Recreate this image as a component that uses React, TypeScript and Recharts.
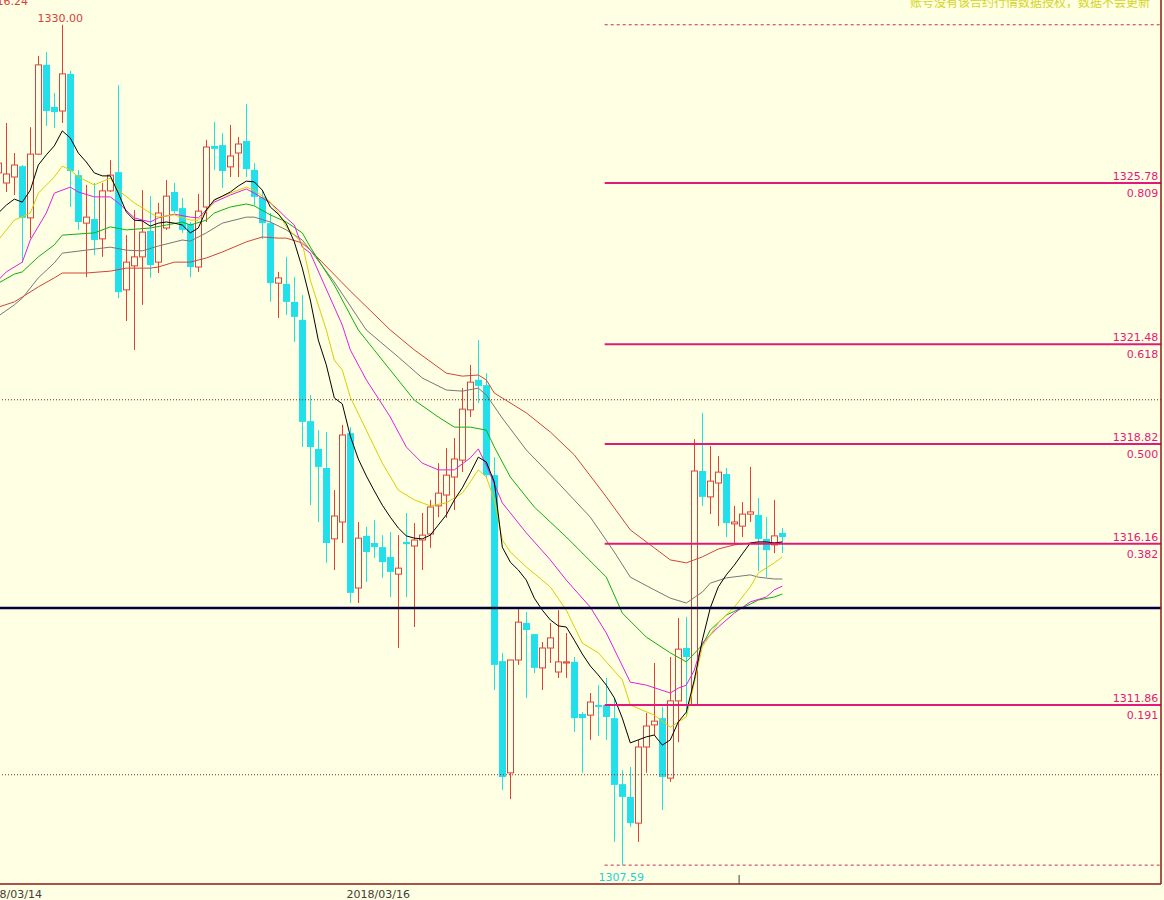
import React from 'react';
import { ComposedChart, Bar, Line, XAxis, YAxis, ReferenceLine, ReferenceDot } from 'recharts';

// candle data (index 0 = leftmost, partly cut bar)
const opens = [
  1326.05, 1325.78, 1325.94, 1326.23, 1324.85, 1326.55, 1328.93, 1327.81, 1327.70, 1328.69,
  1325.99, 1324.71, 1324.82, 1324.29, 1325.57, 1326.07, 1322.93, 1323.57, 1323.81, 1324.50,
  1323.67, 1324.58, 1325.54, 1325.11, 1324.69, 1323.54, 1325.14, 1326.77, 1326.79, 1326.21,
  1326.58, 1326.90, 1326.13, 1325.41, 1324.71, 1323.11, 1323.09, 1322.61, 1322.13, 1319.43,
  1318.69, 1318.18, 1316.29, 1316.74, 1319.11, 1314.98, 1316.37, 1316.18, 1316.07, 1315.81,
  1315.35, 1316.21, 1316.10, 1316.26, 1316.42, 1317.17, 1317.46, 1317.94, 1318.39, 1319.73,
  1320.53, 1320.39, 1317.99, 1313.03, 1310.05, 1313.06, 1314.05, 1313.75, 1312.85, 1313.38,
  1312.74, 1312.98, 1313.01, 1311.62, 1311.59, 1311.86, 1311.86, 1311.51, 1309.75, 1309.41,
  1308.71, 1310.74, 1311.33, 1311.51, 1309.91, 1311.97, 1313.38, 1311.86, 1318.10, 1317.41,
  1317.78, 1318.02, 1316.69, 1316.63, 1316.95, 1316.93, 1316.29, 1316.13, 1316.45,
];
const highs = [
  1326.53, 1327.38, 1326.58, 1326.26, 1327.27, 1329.17, 1329.27, 1328.18, 1330.00, 1328.77,
  1326.13, 1325.73, 1325.78, 1325.78, 1326.39, 1328.39, 1324.39, 1325.06, 1325.59, 1325.43,
  1325.25, 1325.86, 1325.78, 1325.38, 1324.74, 1325.49, 1326.93, 1327.41, 1327.11, 1327.33,
  1327.01, 1327.89, 1326.31, 1325.59, 1324.98, 1323.41, 1323.81, 1323.27, 1322.79, 1320.13,
  1319.19, 1319.14, 1317.59, 1319.33, 1319.27, 1316.74, 1316.61, 1316.79, 1316.39, 1316.47,
  1316.39, 1316.98, 1316.71, 1316.98, 1317.33, 1318.31, 1318.71, 1318.98, 1320.31, 1320.93,
  1321.59, 1320.71, 1318.47, 1313.25, 1313.06, 1314.47, 1314.34, 1313.75, 1313.54, 1314.05,
  1314.39, 1313.78, 1313.14, 1311.67, 1312.18, 1312.39, 1312.58, 1312.05, 1310.13, 1310.21,
  1310.93, 1311.65, 1312.98, 1311.81, 1313.14, 1314.18, 1314.21, 1318.95, 1319.65, 1318.77,
  1318.50, 1318.18, 1317.17, 1317.27, 1318.21, 1317.38, 1316.87, 1317.33, 1316.58,
];
const lows = [
  1325.86, 1325.54, 1325.46, 1323.65, 1324.31, 1326.53, 1327.30, 1327.25, 1327.38, 1325.14,
  1324.53, 1323.27, 1323.86, 1323.81, 1325.54, 1322.71, 1322.10, 1321.33, 1322.53, 1323.25,
  1323.38, 1324.53, 1324.98, 1324.45, 1323.27, 1323.41, 1324.74, 1326.13, 1325.65, 1325.94,
  1325.94, 1325.94, 1325.19, 1324.29, 1322.61, 1322.18, 1322.26, 1321.54, 1318.74, 1317.19,
  1316.74, 1315.65, 1315.46, 1316.18, 1314.58, 1314.58, 1315.14, 1315.78, 1315.25, 1314.74,
  1313.38, 1314.74, 1313.94, 1315.46, 1316.05, 1316.87, 1316.85, 1317.06, 1318.07, 1319.54,
  1319.91, 1317.91, 1312.26, 1309.59, 1309.35, 1312.93, 1312.05, 1312.71, 1312.26, 1312.98,
  1312.58, 1312.58, 1311.14, 1310.05, 1310.93, 1311.03, 1310.93, 1308.21, 1307.59, 1308.61,
  1308.21, 1310.05, 1311.06, 1309.06, 1309.81, 1310.87, 1311.54, 1311.83, 1317.17, 1316.95,
  1316.63, 1316.34, 1316.13, 1316.34, 1316.74, 1315.43, 1315.27, 1315.91, 1315.91,
];
const closes = [
  1326.31, 1326.02, 1326.26, 1324.85, 1326.55, 1328.93, 1327.70, 1327.67, 1328.69, 1326.10,
  1324.74, 1324.87, 1324.26, 1325.57, 1325.99, 1322.87, 1323.67, 1323.81, 1324.47, 1323.59,
  1324.98, 1325.43, 1325.03, 1324.53, 1323.54, 1325.03, 1326.74, 1326.69, 1326.10, 1326.50,
  1326.82, 1326.15, 1325.41, 1324.71, 1323.11, 1323.25, 1322.61, 1322.21, 1319.41, 1318.74,
  1318.21, 1316.18, 1316.90, 1319.06, 1314.85, 1316.31, 1315.94, 1316.07, 1315.67, 1315.41,
  1315.51, 1316.15, 1316.26, 1316.39, 1317.14, 1317.51, 1317.99, 1318.42, 1319.75, 1320.47,
  1320.37, 1317.99, 1312.93, 1309.94, 1313.06, 1314.07, 1313.86, 1312.85, 1313.38, 1313.65,
  1313.01, 1313.01, 1311.51, 1311.51, 1311.94, 1311.81, 1311.54, 1309.73, 1309.41, 1308.71,
  1310.74, 1311.30, 1311.43, 1309.94, 1311.97, 1313.35, 1313.14, 1318.10, 1317.41, 1317.83,
  1318.07, 1316.71, 1316.74, 1316.95, 1317.01, 1316.29, 1315.99, 1316.37, 1316.34,
];

// moving averages: black one at every bar, others as [bar, value]
const maBlack = [
  1324.98, 1325.19, 1325.35, 1325.27, 1325.59, 1326.26, 1326.53, 1326.77, 1327.17, 1326.98,
  1326.58, 1326.34, 1326.05, 1325.97, 1325.97, 1325.51, 1325.01, 1324.79, 1324.77, 1324.63,
  1324.71, 1324.74, 1324.71, 1324.66, 1324.45, 1324.58, 1325.06, 1325.33, 1325.43, 1325.54,
  1325.70, 1325.83, 1325.81, 1325.59, 1325.14, 1324.95, 1324.69, 1324.21, 1323.51, 1322.66,
  1321.59, 1320.93, 1320.05, 1319.89, 1319.03, 1318.42, 1317.97, 1317.57, 1317.19, 1316.87,
  1316.58, 1316.37, 1316.31, 1316.29, 1316.39, 1316.66, 1316.93, 1317.33, 1317.65, 1318.05,
  1318.47, 1318.34, 1317.81, 1316.07, 1315.67, 1315.46, 1315.19, 1314.71, 1314.39, 1314.13,
  1313.97, 1313.94, 1313.59, 1313.22, 1312.90, 1312.66, 1312.39, 1312.05, 1311.51, 1310.85,
  1310.93, 1311.01, 1311.06, 1310.79, 1310.93, 1311.41, 1311.67, 1312.53, 1313.59, 1314.45,
  1315.01, 1315.33, 1315.59, 1315.89, 1316.18, 1316.21, 1316.21, 1316.18, 1316.21,
];
const maYellow: [number, number][] = [
  [0, 1324.26], [2, 1324.79], [4, 1324.98], [5, 1325.51], [7, 1325.94], [8, 1326.23], [9, 1326.13],
  [10, 1325.94], [12, 1325.73], [14, 1325.91], [15, 1325.59], [17, 1325.25], [19, 1324.98], [20, 1324.87],
  [22, 1324.93], [24, 1324.79], [25, 1324.79], [26, 1325.01], [27, 1325.33], [29, 1325.51], [31, 1325.67],
  [32, 1325.59], [34, 1325.27], [35, 1324.98], [36, 1324.61], [38, 1324.18], [39, 1323.19], [41, 1321.86],
  [42, 1321.06], [43, 1320.79], [44, 1320.07], [46, 1319.19], [48, 1318.31], [50, 1317.59], [52, 1317.33],
  [54, 1317.17], [56, 1317.25], [58, 1317.51], [59, 1317.81], [60, 1318.13], [61, 1317.94], [62, 1317.33],
  [63, 1316.26], [64, 1315.94], [66, 1315.54], [69, 1315.01], [71, 1314.39], [73, 1313.51], [75, 1313.25],
  [78, 1312.53], [79, 1311.86], [82, 1311.59], [84, 1311.27], [86, 1311.54], [87, 1312.45], [88, 1313.41],
  [90, 1314.05], [92, 1314.47], [94, 1315.01], [95, 1315.38], [97, 1315.65], [98, 1315.81],
];
const maMagenta: [number, number][] = [
  [0, 1323.19], [1, 1323.41], [3, 1323.67], [4, 1324.26], [6, 1324.98], [7, 1325.51], [9, 1325.67],
  [10, 1325.54], [12, 1325.41], [14, 1325.41], [15, 1325.25], [17, 1324.85], [19, 1324.74], [20, 1324.85],
  [22, 1324.95], [24, 1324.87], [25, 1324.85], [27, 1325.27], [29, 1325.46], [31, 1325.62], [32, 1325.51],
  [34, 1325.25], [35, 1325.06], [36, 1324.85], [37, 1324.66], [38, 1324.07], [39, 1323.91], [43, 1321.99],
  [44, 1321.33], [46, 1320.53], [49, 1319.54], [51, 1318.74], [53, 1318.31], [55, 1318.13], [57, 1318.13],
  [59, 1318.45], [60, 1318.69], [61, 1318.26], [63, 1317.25], [66, 1316.45], [69, 1315.73], [71, 1315.19],
  [74, 1314.47], [76, 1313.78], [79, 1312.47], [81, 1312.39], [84, 1312.18], [85, 1312.31], [86, 1312.39],
  [87, 1312.79], [88, 1313.51], [90, 1313.94], [92, 1314.31], [94, 1314.61], [96, 1314.74], [97, 1314.93],
  [98, 1315.03],
];
const maGreen: [number, number][] = [
  [0, 1323.11], [2, 1323.35], [3, 1323.41], [5, 1323.81], [7, 1324.13], [8, 1324.39], [12, 1324.45],
  [14, 1324.61], [16, 1324.53], [19, 1324.58], [21, 1324.66], [23, 1324.74], [24, 1324.66], [26, 1324.79],
  [27, 1324.98], [29, 1325.14], [31, 1325.22], [32, 1325.17], [34, 1324.93], [36, 1324.74], [38, 1324.45],
  [39, 1324.07], [42, 1323.06], [45, 1321.86], [49, 1320.79], [52, 1319.99], [55, 1319.54], [57, 1319.27],
  [59, 1319.27], [61, 1319.19], [62, 1318.74], [64, 1317.94], [67, 1317.14], [71, 1316.34], [76, 1315.27],
  [78, 1314.31], [81, 1313.67], [84, 1313.25], [86, 1313.01], [88, 1313.46], [89, 1313.86], [91, 1314.26],
  [94, 1314.55], [95, 1314.66], [97, 1314.74], [98, 1314.82],
];
const maGray: [number, number][] = [
  [0, 1322.23], [2, 1322.53], [3, 1322.71], [5, 1323.25], [7, 1323.65], [8, 1323.91], [11, 1323.99],
  [14, 1324.07], [16, 1323.99], [18, 1323.97], [20, 1324.10], [23, 1324.26], [24, 1324.23], [26, 1324.45],
  [28, 1324.71], [31, 1324.87], [32, 1324.87], [34, 1324.74], [36, 1324.53], [38, 1324.26], [39, 1323.99],
  [42, 1323.14], [46, 1321.86], [50, 1321.14], [53, 1320.58], [56, 1320.26], [58, 1320.23], [60, 1320.31],
  [61, 1320.13], [63, 1319.51], [66, 1318.66], [70, 1317.78], [74, 1316.87], [77, 1315.94], [79, 1315.27],
  [82, 1314.93], [84, 1314.71], [86, 1314.58], [88, 1314.87], [89, 1315.11], [91, 1315.25], [94, 1315.33],
  [95, 1315.27], [97, 1315.22], [98, 1315.22],
];
const maRed: [number, number][] = [
  [0, 1322.47], [2, 1322.61], [3, 1322.74], [5, 1323.01], [7, 1323.25], [8, 1323.38], [11, 1323.38],
  [14, 1323.43], [16, 1323.51], [19, 1323.51], [20, 1323.54], [22, 1323.67], [24, 1323.67], [26, 1323.78],
  [28, 1323.94], [31, 1324.21], [33, 1324.34], [35, 1324.31], [36, 1324.31], [38, 1324.18], [39, 1323.99],
  [44, 1322.90], [49, 1321.86], [52, 1321.33], [56, 1320.71], [58, 1320.63], [60, 1320.66], [61, 1320.53],
  [62, 1320.18], [66, 1319.65], [69, 1319.14], [72, 1318.53], [76, 1317.41], [79, 1316.53], [82, 1316.05],
  [84, 1315.73], [86, 1315.65], [88, 1315.81], [90, 1316.02], [92, 1316.13], [94, 1316.18], [95, 1316.18],
  [97, 1316.18], [98, 1316.18],
];

// fibonacci levels drawn from the 1330.00 high to the 1307.59 low
const fibPrices = [1325.78, 1321.48, 1318.82, 1316.16, 1311.86];
const fibRatios = ['0.809', '0.618', '0.500', '0.382', '0.191'];
const fibEnds = [1330.0, 1307.59];
const fibStartIdx = 75.8;
const dottedLevels = [1320.0, 1310.0];
const navyLevel = 1314.45;
const highIdx = 8;
const lowIdx = 78;
const hiLabel = '1330.00';
const loLabel = '1307.59';

const dateTicks = [1, 47];
const dateLabels = ['2018/03/14', '2018/03/16'];
const markTick = 92.6;

const X_DOMAIN: [number, number] = [0.2125, 145.3375];
const Y_DOMAIN: [number, number] = [1307.087, 1330.66];

const BG = '#FFFFE3';
const UP = '#E0403A';
const DOWN = '#22E0EA';
const FIB = '#E4187A';
const AXIS = '#8B1A1A';
const FONT = '"DejaVu Sans", Verdana, sans-serif';

const lookup = (pts: [number, number][]) => {
  const m = new Map(pts);
  return (i: number) => (m.has(i) ? (m.get(i) as number) : null);
};
const yel = lookup(maYellow);
const mag = lookup(maMagenta);
const grn = lookup(maGreen);
const gry = lookup(maGray);
const red = lookup(maRed);

const rows = opens.map((o, i) => ({
  idx: i,
  open: o,
  high: highs[i],
  low: lows[i],
  close: closes[i],
  range: [lows[i], highs[i]],
  m1: maBlack[i],
  m2: yel(i),
  m3: mag(i),
  m4: grn(i),
  m5: gry(i),
  m6: red(i),
}));

const Candle = (props: any) => {
  const { x, y, width, height, payload } = props;
  if (payload == null || height == null || isNaN(y)) return null;
  const { open, close, high, low } = payload;
  const cx = Math.round(x + width / 2);
  const k = height / (high - low);
  const yOf = (v: number) => y + (high - v) * k;
  const top = yOf(Math.max(open, close));
  const bot = yOf(Math.min(open, close));
  const wx = cx + 0.5;
  if (close >= open) {
    return (
      <g>
        <line x1={wx} x2={wx} y1={y} y2={top} stroke={UP} />
        <line x1={wx} x2={wx} y1={bot} y2={y + height} stroke={UP} />
        <rect x={cx - 2.5} y={top} width={6} height={Math.max(bot - top, 1)} fill="none" stroke={UP} />
      </g>
    );
  }
  return (
    <g>
      <line x1={wx} x2={wx} y1={y} y2={y + height} stroke={DOWN} />
      <rect x={cx - 3} y={top} width={7} height={Math.max(bot - top, 1)} fill={DOWN} />
    </g>
  );
};

const DateTick = (props: any) => {
  const { x, y, payload } = props;
  const k = dateTicks.indexOf(payload.value);
  if (k < 0) {
    return <line x1={x} x2={x} y1={y - 9} y2={y} stroke="#404040" />;
  }
  return (
    <text x={x + 4} y={y + 14} textAnchor="middle" fontSize={11} fontFamily={FONT} fill="#404040">
      {dateLabels[k]}
    </text>
  );
};

const fibLabel = (price: number, ratio: string) => (p: any) => (
  <g>
    <text x={p.cx} y={p.cy - 3} textAnchor="end" fontSize={11} fontFamily={FONT} fill={FIB}>
      {price.toFixed(2)}
    </text>
    <text x={p.cx} y={p.cy + 14} textAnchor="end" fontSize={11} fontFamily={FONT} fill={FIB}>
      {ratio}
    </text>
  </g>
);

export default function App() {
  return (
    <div style={{ position: 'absolute', left: 0, top: 0, width: 1164, height: 900, background: BG, overflow: 'hidden' }}>
      <ComposedChart width={1164} height={900} data={rows} margin={{ top: 0, right: 0, bottom: 0, left: 0 }}>
        <XAxis
          type="number"
          dataKey="idx"
          domain={X_DOMAIN}
          allowDataOverflow
          ticks={[...dateTicks, markTick]}
          interval={0}
          tick={<DateTick />}
          tickLine={false}
          tickSize={0}
          tickMargin={0}
          height={16}
          axisLine={{ stroke: AXIS, strokeWidth: 1.5 }}
        />
        <YAxis
          orientation="right"
          domain={Y_DOMAIN}
          allowDataOverflow
          width={3}
          tick={false}
          tickLine={false}
          axisLine={{ stroke: AXIS, strokeWidth: 1.5 }}
        />

        {dottedLevels.map((v) => (
          <ReferenceLine key={v} y={v} stroke="#7A2A10" strokeDasharray="1 2" />
        ))}

        <Bar dataKey="range" barSize={7} shape={<Candle />} isAnimationActive={false} />

        <Line dataKey="m6" stroke="#D04438" dot={false} strokeWidth={1} connectNulls isAnimationActive={false} />
        <Line dataKey="m5" stroke="#777777" dot={false} strokeWidth={1} connectNulls isAnimationActive={false} />
        <Line dataKey="m4" stroke="#10B010" dot={false} strokeWidth={1} connectNulls isAnimationActive={false} />
        <Line dataKey="m3" stroke="#E020E0" dot={false} strokeWidth={1} connectNulls isAnimationActive={false} />
        <Line dataKey="m2" stroke="#D8D000" dot={false} strokeWidth={1} connectNulls isAnimationActive={false} />
        <Line dataKey="m1" stroke="#000000" dot={false} strokeWidth={1} connectNulls isAnimationActive={false} />

        <ReferenceLine y={navyLevel} stroke="#000038" strokeWidth={2.5} />

        {fibEnds.map((v) => (
          <ReferenceLine
            key={'e' + v}
            segment={[{ x: fibStartIdx, y: v }, { x: X_DOMAIN[1], y: v }]}
            stroke="#C8285A"
            strokeDasharray="3 3"
            ifOverflow="visible"
          />
        ))}
        {fibPrices.map((v) => (
          <ReferenceLine
            key={'f' + v}
            segment={[{ x: fibStartIdx, y: v }, { x: X_DOMAIN[1], y: v }]}
            stroke={FIB}
            strokeWidth={2}
            ifOverflow="visible"
          />
        ))}
        {fibPrices.map((v, i) => (
          <ReferenceDot key={'l' + v} x={145} y={v} r={0} shape={fibLabel(v, fibRatios[i])} ifOverflow="visible" />
        ))}

        <ReferenceDot
          x={highIdx}
          y={highs[highIdx]}
          r={0}
          shape={(p: any) => (
            <text x={p.cx - 2} y={p.cy - 3} textAnchor="middle" fontSize={11} fontFamily={FONT} fill="#D8403A">
              {hiLabel}
            </text>
          )}
        />
        <ReferenceDot
          x={lowIdx}
          y={lows[lowIdx]}
          r={0}
          shape={(p: any) => (
            <text x={p.cx - 1} y={p.cy + 16} textAnchor="middle" fontSize={11} fontFamily={FONT} fill="#20D0D8">
              {loLabel}
            </text>
          )}
        />
      </ComposedChart>
      <svg width={1164} height={900} style={{ position: 'absolute', left: 0, top: 0, pointerEvents: 'none' }}>
        <text x={28} y={5} textAnchor="end" fontSize={11} fontFamily={FONT} fill="#D8403A">
          1316.24
        </text>
        <text x={1150} y={7} textAnchor="end" fontSize={12} fontFamily='"Noto Sans CJK SC", sans-serif' fill="#D4D41C">
          账号没有该合约行情数据授权，数据不会更新
        </text>
      </svg>
    </div>
  );
}
